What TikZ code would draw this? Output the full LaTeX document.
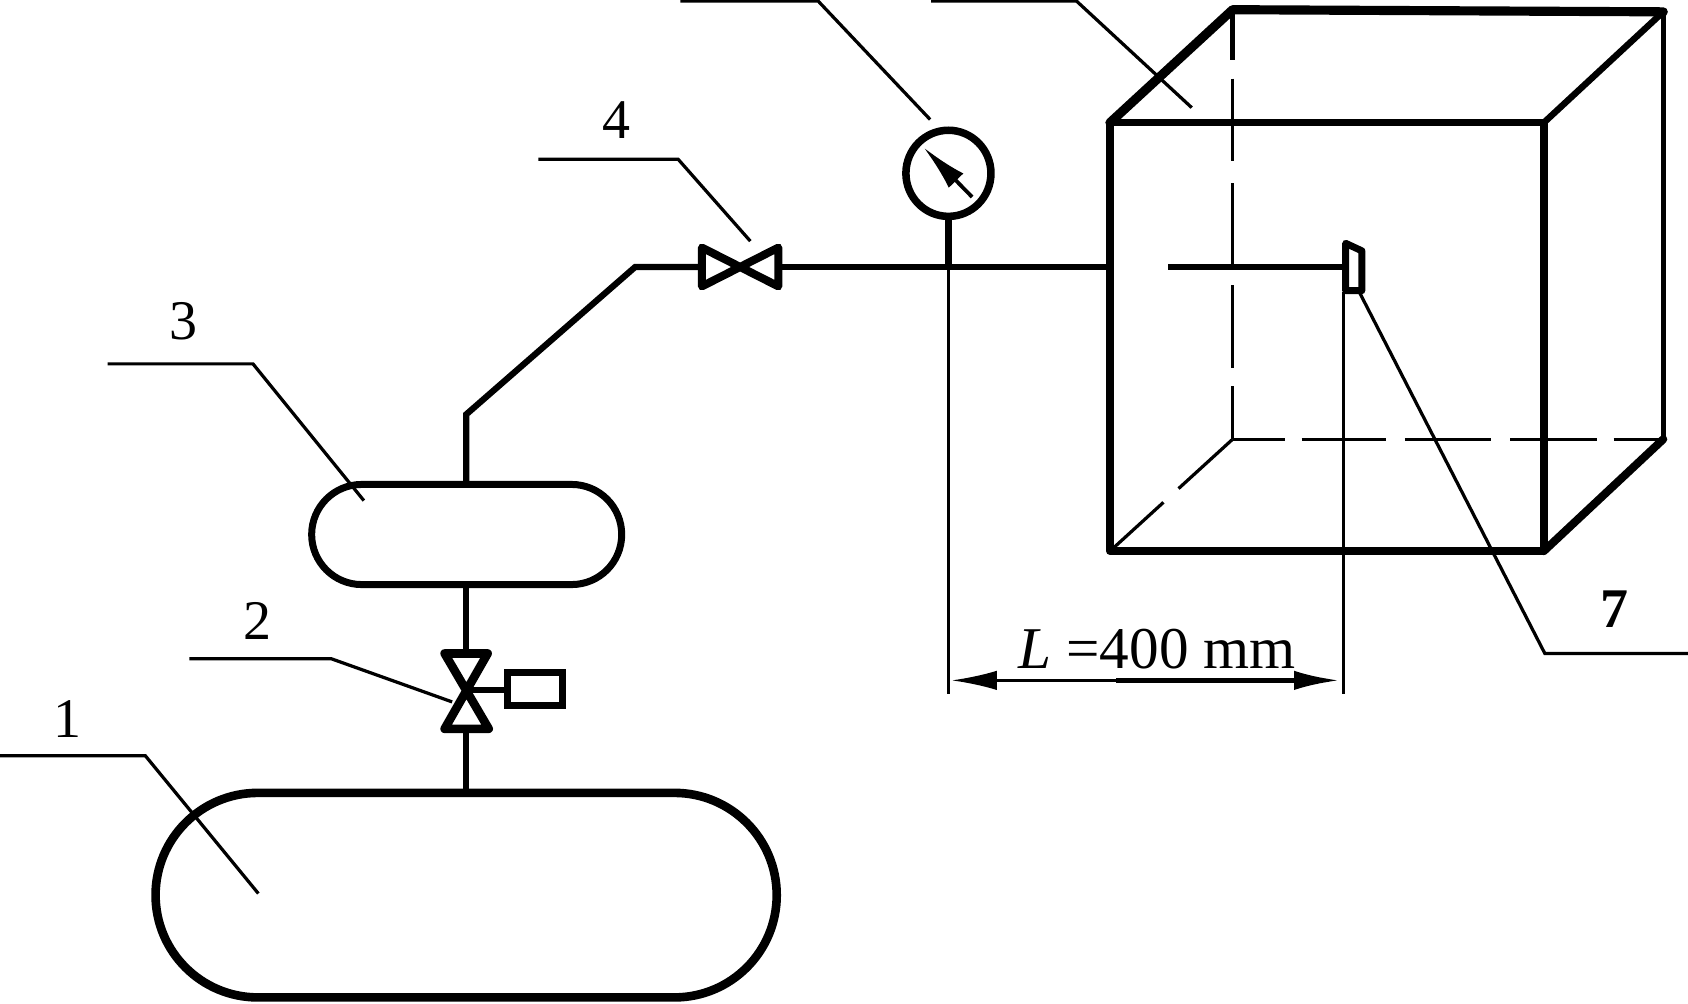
\documentclass[tikz,border=0pt]{standalone}
\usepackage{fontspec}
\setmainfont{Liberation Serif}
\usetikzlibrary{arrows.meta,shapes.misc,shapes.geometric}
\tikzset{
  x=1pt,y=-1pt,
  thinl/.style={line width=2pt,black},
  leader/.style={line width=3pt,black,line join=miter},
  pipe/.style={line width=5.8pt,black,line join=miter},
  heavy/.style={line width=8pt,black,line join=round},
  boxedge/.style={line width=7pt,black,line join=round,line cap=round},
  hidden/.style={line width=3pt,black},
  vessel/.style={draw=black,rounded rectangle,inner sep=0pt,fill=white},
  tag/.style={font=\fontsize{52}{62}\selectfont,inner sep=0pt,anchor=center,text=black},
}
\begin{document}
\begin{tikzpicture}
\useasboundingbox (0,0) rectangle (1568,932);
\fill[white] (0,0) rectangle (1568,932);

% key points
\coordinate (v2) at (433,641);
\coordinate (gj) at (881,248);
\coordinate (bfl) at (1031,248);
\coordinate (pl) at (1085,248);
\coordinate (pr) at (1247,248);
\coordinate (FTL) at (1031,114);
\coordinate (FTR) at (1434,114);
\coordinate (FBL) at (1031,512);
\coordinate (FBR) at (1434,512);
\coordinate (BTL) at (1145,9);
\coordinate (BTR) at (1545,11);
\coordinate (BBL) at (1145,408);
\coordinate (BBR) at (1545,408);

% pipes
\draw[pipe] (433,735) -- (433,680);
\draw[pipe] (433,605) -- (433,544);
\draw[pipe] (433,449) -- (433,385) -- (590,248) -- (650,248);
\draw[pipe] (725,248) -- (bfl);
\draw[pipe] (gj) -- (881,200);
\draw[pipe] (pl) -- (pr);

% vessels
\node[vessel,line width=8pt,minimum width=577pt,minimum height=190pt] (tank1) at (433,831.5) {};
\node[vessel,line width=6.5pt,minimum width=288pt,minimum height=93pt] (tank3) at (433.5,496.5) {};

% valve 2
\draw[heavy,fill=white] (413,607) -- (453,607) -- (413,677) -- (454,677) -- cycle;
\draw[pipe] (v2) -- (472,641);
\node[draw=black,line width=6pt,minimum width=51pt,minimum height=31pt,inner sep=0pt] (act) at (497,640) {};

% valve 4
\draw[line width=7.5pt,line join=round,fill=white] (652,230) -- (652,266) -- (723,230) -- (723,266) -- cycle;

% gauge
\node[draw=black,ellipse,line width=7pt,minimum width=79pt,minimum height=80pt,inner sep=0pt] (gauge) at (881,161) {};
\draw[line width=3.5pt,-{Latex[length=43pt,width=19pt]}] (903,183) -- (858,137);

% box: front face and visible edges
\draw[boxedge] (FTL) -- (FBL) -- (FBR) -- (FTR);
\draw[line width=6.5pt,line cap=round] (FTL) -- (FTR);
\draw[line width=8.5pt,line join=round,line cap=round] (FTL) -- (BTL) -- (BTR);
\draw[line width=6pt,line cap=round] (BTR) -- (FTR);
\draw[line width=4.5pt,line cap=round] (BTR) -- (BBR);
\draw[line width=7.5pt,line cap=round] (BBR) -- (FBR);
% hidden edges
\draw[line width=5pt] (BTL) -- (1145,56);
\draw[hidden] (1145,73) -- (1145,150);
\draw[hidden] (1145,170) -- (1145,246);
\draw[hidden] (1145,265) -- (1145,342);
\draw[hidden] (1145,359) -- (BBL);
\draw[hidden,dash pattern=on 49pt off 15pt on 78pt off 18pt on 80pt off 18pt on 80pt off 16pt on 60pt off 0pt] (BBL) -- (BBR);
\draw[hidden,dash pattern=on 68pt off 19pt on 100pt off 0pt] (BBL) -- (FBL);

% probe
\draw[line width=6.5pt,line join=round] (1250,226) -- (1265,233) -- (1265,270) -- (1250,270) -- cycle;

% dimension
\draw[thinl] (gj) -- (881,645);
\draw[line width=2.6pt] (1248,271) -- (1248,645);
\coordinate (dl) at (884,632);
\coordinate (dm) at (1037,632);
\coordinate (dr) at (1244,632);
\draw[line width=2.2pt,{Latex[length=42pt,width=18pt]}-] (dl) -- (dm);
\draw[line width=4pt,-{Latex[length=42pt,width=18pt]}] (dm) -- (dr);
\node[tag,font=\fontsize{55}{65}\selectfont] (dimtext) at (1075,603) {\textit{L} =400 mm};

% leaders
\coordinate (l1a) at (0,702);   \coordinate (l1b) at (135,702);  \coordinate (l1c) at (240,830);
\coordinate (l2a) at (176,612); \coordinate (l2b) at (308,612);  \coordinate (l2c) at (420,652);
\coordinate (l3a) at (100,338); \coordinate (l3b) at (235,338);  \coordinate (l3c) at (338,465);
\coordinate (l4a) at (500,148); \coordinate (l4b) at (630,148);  \coordinate (l4c) at (697,224);
\coordinate (l5a) at (632,1);   \coordinate (l5b) at (760,1);    \coordinate (l5c) at (864,111);
\coordinate (l6a) at (865,1);   \coordinate (l6b) at (1000,1);   \coordinate (l6c) at (1107,100);
\coordinate (l7a) at (1262,270);\coordinate (l7b) at (1435,607); \coordinate (l7c) at (1568,607);
\foreach \n in {1,...,6} {\draw[leader] (l\n a) -- (l\n b) -- (l\n c);}
\draw[leader] (l7a) -- (l7b) -- (l7c);

% labels
\node[tag] (n1) at (63,668) {1};
\node[tag] (n2) at (239,577) {2};
\node[tag] (n3) at (170,298) {3};
\node[tag] (n4) at (573,112) {4};
\node[tag,font=\bfseries\fontsize{52}{62}\selectfont] (n7) at (1500,566) {7};
\end{tikzpicture}
\end{document}
